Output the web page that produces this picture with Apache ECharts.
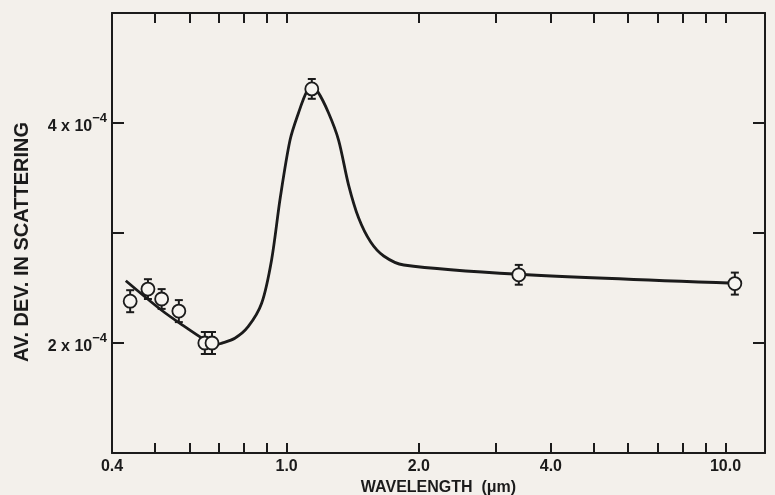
<!DOCTYPE html>
<html>
<head>
<meta charset="utf-8">
<script src="https://cdn.jsdelivr.net/npm/echarts@6/dist/echarts.min.js"></script>
<style>
  html, body { margin: 0; padding: 0; background: #f3f0eb; }
  #chart { width: 775px; height: 495px; }
</style>
</head>
<body>
<div id="chart"></div>
<script>
// measured points (wavelength in um, av. dev. in scattering)
const pointWl = [0.44, 0.483, 0.519, 0.568, 0.651, 0.676, 1.141, 3.38, 10.5]
const pointVal = [2.38e-4, 2.49e-4, 2.40e-4, 2.29e-4, 2.0e-4, 2.0e-4, 4.31e-4, 2.62e-4, 2.54e-4]
const pointErr = [0.1e-4, 0.09e-4, 0.09e-4, 0.1e-4, 0.1e-4, 0.1e-4, 0.09e-4, 0.09e-4, 0.1e-4]

// fitted curve
const curveWl = [0.43, 0.518, 0.586, 0.651, 0.686, 0.71, 0.762, 0.817, 0.877, 0.924, 0.967,
  1.018, 1.064, 1.111, 1.141, 1.177, 1.246, 1.313, 1.384, 1.459, 1.554, 1.664, 1.849, 3.38, 10.5]
const curveVal = [2.566e-4, 2.30e-4, 2.148e-4, 2.027e-4, 1.982e-4, 1.997e-4, 2.043e-4, 2.148e-4, 2.361e-4, 2.755e-4, 3.32e-4,
  3.845e-4, 4.091e-4, 4.285e-4, 4.32e-4, 4.285e-4, 4.091e-4, 3.845e-4, 3.436e-4, 3.136e-4, 2.918e-4, 2.791e-4, 2.709e-4, 2.625e-4, 2.543e-4]

// axis ticks
const xTicks = [0.4, 0.5, 0.6, 0.7, 0.8, 0.9, 1, 2, 3, 4, 5, 6, 7, 8, 9, 10]
const xLabels = [0.4, 1, 2, 4, 10]
const yLabels = [2, 4]

const ink = '#1b1b1b'
const font = 'Liberation Sans'

const chart = echarts.init(document.getElementById('chart'))

const xCommon = {
  type: 'log',
  logBase: 10,
  min: 0.4,
  max: 12.3,
  axisLine: { lineStyle: { color: ink, width: 2 } },
  splitLine: { show: false },
  minorTick: { show: false },
  axisTick: {
    inside: true,
    length: 10,
    lineStyle: { color: ink, width: 2 },
    customValues: xTicks
  }
}

const yCommon = {
  type: 'value',
  min: 1e-4,
  max: 5e-4,
  interval: 1e-4,
  axisLine: { show: true, lineStyle: { color: ink, width: 2 } },
  splitLine: { show: false },
  axisTick: { show: true, inside: true, length: 12, lineStyle: { color: ink, width: 2 } }
}

chart.setOption({
  backgroundColor: '#f3f0eb',
  animation: false,
  grid: { left: 112, right: 10, top: 13, bottom: 42, containLabel: false, outerBoundsMode: 'none' },
  xAxis: [
    {
      ...xCommon,
      position: 'bottom',
      name: 'WAVELENGTH  (\u03bcm)',
      nameLocation: 'middle',
      nameGap: 27,
      nameTextStyle: { color: ink, fontFamily: font, fontWeight: 'bold', fontSize: 16 },
      axisLabel: {
        color: ink,
        fontFamily: font,
        fontWeight: 'bold',
        fontSize: 16,
        margin: 6,
        customValues: xLabels,
        formatter: v => (+v).toFixed(1)
      }
    },
    {
      ...xCommon,
      position: 'top',
      axisLabel: { show: false }
    }
  ],
  yAxis: [
    {
      ...yCommon,
      position: 'left',
      name: 'AV. DEV. IN SCATTERING',
      nameLocation: 'middle',
      nameGap: 80,
      nameRotate: 90,
      nameTextStyle: { color: ink, fontFamily: font, fontWeight: 'bold', fontSize: 20, padding: [0, 18, 0, 0] },
      axisLabel: {
        color: ink,
        fontFamily: font,
        fontWeight: 'bold',
        fontSize: 16,
        margin: 5,
        formatter: v => {
          const n = Math.round(v * 1e4)
          return yLabels.indexOf(n) >= 0 ? '{b|' + n + ' x 10}{s|\u22124}' : ''
        },
        rich: {
          b: { color: ink, fontFamily: font, fontWeight: 'bold', fontSize: 16, padding: [7, 0, 0, 0] },
          s: { color: ink, fontFamily: font, fontWeight: 'bold', fontSize: 13, verticalAlign: 'top', padding: [0, 0, 9, 0] }
        }
      }
    },
    {
      ...yCommon,
      position: 'right',
      axisLabel: { show: false }
    }
  ],
  series: [
    {
      type: 'line',
      data: curveWl.map((w, i) => [w, curveVal[i]]),
      smooth: 0.3,
      showSymbol: false,
      lineStyle: { color: ink, width: 2.8 },
      z: 2
    },
    {
      type: 'custom',
      data: pointWl.map((w, i) => [w, pointVal[i] - pointErr[i], pointVal[i] + pointErr[i]]),
      renderItem: (params, api) => {
        const lo = api.coord([api.value(0), api.value(1)])
        const hi = api.coord([api.value(0), api.value(2)])
        const cap = 4
        const style = { stroke: ink, lineWidth: 2 }
        return {
          type: 'group',
          children: [
            { type: 'line', shape: { x1: lo[0], y1: lo[1], x2: hi[0], y2: hi[1] }, style },
            { type: 'line', shape: { x1: lo[0] - cap, y1: lo[1], x2: lo[0] + cap, y2: lo[1] }, style },
            { type: 'line', shape: { x1: hi[0] - cap, y1: hi[1], x2: hi[0] + cap, y2: hi[1] }, style }
          ]
        }
      },
      z: 3
    },
    {
      type: 'scatter',
      data: pointWl.map((w, i) => [w, pointVal[i]]),
      symbol: 'circle',
      symbolSize: 13,
      itemStyle: { color: '#f6f4f0', borderColor: ink, borderWidth: 1.8, opacity: 1 },
      z: 4
    }
  ]
})
</script>
</body>
</html>
